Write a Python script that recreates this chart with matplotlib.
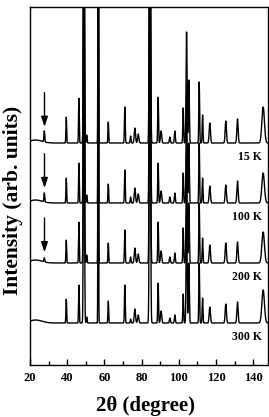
import numpy as np
import matplotlib
matplotlib.use('Agg')
import matplotlib.pyplot as plt

plt.rcParams['font.family'] = ['Liberation Serif', 'DejaVu Serif']
plt.rcParams['font.weight'] = 'bold'
plt.rcParams['mathtext.default'] = 'regular'

# ---- data ----
temps = ['15 K', '100 K', '200 K', '300 K']
offsets = [3.0, 2.0, 1.0, 0.0]          # vertical stacking (1 unit = spacing)

peak_pos = [23.0, 27.7, 39.5, 46.3, 49.0, 50.5, 56.7, 62.1, 71.0, 74.1,
            76.4, 78.2, 84.5, 88.9, 90.5, 95.2, 97.9, 102.4, 104.2, 105.4,
            111.0, 112.8, 116.7, 125.3, 131.6, 145.4]
peak_fwhm = [8.0, 0.5, 0.45, 0.45, 0.6, 0.5, 0.35, 0.45, 0.5, 0.5,
             0.8, 0.8, 0.7, 0.5, 0.8, 0.6, 0.6, 0.5, 0.6, 0.6,
             0.5, 0.5, 0.8, 0.8, 0.8, 1.6]
# peak heights (in units of 1/60 of the stacking step)
h_15K = [3, 11, 26, 45, 400, 8, 400, 21, 36, 7,
         15, 9, 400, 46, 12, 6, 12, 35, 111, 63,
         61, 28, 20, 22, 24, 36]
h_100K = [3, 9, 25, 40, 400, 8, 400, 19, 33, 6,
          15, 9, 400, 40, 12, 6, 10, 30, 110, 60,
          60, 25, 17, 18, 22, 30]
h_200K = [3, 4, 23, 41, 400, 8, 400, 20, 33, 6,
          15, 9, 400, 41, 12, 6, 10, 35, 110, 60,
          60, 25, 18, 20, 21, 31]
h_300K = [3, 0, 24, 38, 400, 6, 400, 22, 38, 4,
          14, 8, 400, 40, 12, 5, 8, 29, 110, 60,
          60, 25, 16, 19, 21, 33]
heights = [h_15K, h_100K, h_200K, h_300K]

arrow_x = 27.8
arrow_tip = [0.27, 0.25, 0.18]   # above baseline, for 15 K, 100 K, 200 K
arrow_len = 0.57

x_ticks = [20, 40, 60, 80, 100, 120, 140]

# ---- figure ----
fig = plt.figure(figsize=(2.69, 4.17), dpi=100)
ax = fig.add_axes([30/269, (417-365)/417, 238/269, 358/417])

tt = np.arange(20, 148.01, 0.04)
for name, off, hs in zip(temps, offsets, heights):
    y = np.zeros_like(tt)
    for p, w, h in zip(peak_pos, peak_fwhm, hs):
        s = w / 2.355
        y += (h / 60.0) * np.exp(-0.5 * ((tt - p) / s) ** 2)
    ax.plot(tt, y + off, color='black', lw=1.0)
    ax.text(144.9, off - 0.24, name, ha='right', va='center',
            fontsize=8.5, fontweight='bold')

for off, tip in zip(offsets[:3], arrow_tip):
    ax.annotate('', xy=(arrow_x, off + tip), xytext=(arrow_x, off + tip + arrow_len),
                arrowprops=dict(arrowstyle='-|>,head_length=0.6,head_width=0.2',
                                color='black', lw=1.0, shrinkA=0, shrinkB=0))

ax.set_xlim(20, 148)
ax.set_ylim(-0.7, 5.267)
ax.set_xticks(x_ticks)
ax.set_xticks(np.arange(30, 148, 20), minor=True)
ax.set_yticks([])
ax.tick_params(axis='x', which='both', direction='in', top=False, labelsize=9, pad=5)
ax.tick_params(axis='x', which='major', length=4, width=1)
ax.tick_params(axis='x', which='minor', length=3, width=1)
for lab in ax.get_xticklabels():
    lab.set_fontweight('bold')
for sp in ax.spines.values():
    sp.set_linewidth(1.0)

fig.text(13/269, 1 - 200/417, 'Intensity (arb. units)', rotation=90,
         ha='center', va='center', fontsize=15.5, fontweight='bold')
fig.text(146/269, 1 - 406/417, '2\u03b8 (degree)', ha='center', va='center',
         fontsize=15, fontweight='bold')

fig.savefig('out.png', dpi=100)
